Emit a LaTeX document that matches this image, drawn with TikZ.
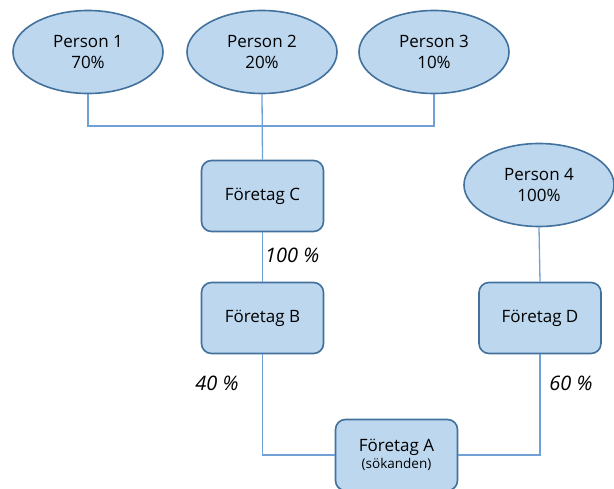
\documentclass[tikz,border=0pt]{standalone}
\usepackage{fontspec}
\setmainfont{Open Sans}
\usetikzlibrary{shapes.geometric}
\definecolor{boxfill}{HTML}{BDD7EE}
\definecolor{boxline}{HTML}{41719C}
\definecolor{conn}{HTML}{6FA0D6}
\begin{document}
\begin{tikzpicture}[x=1pt,y=-1pt,
  person/.style={ellipse,draw=boxline,fill=boxfill,line width=1.6pt,minimum width=150pt,minimum height=83pt,inner sep=0pt,align=center,font=\fontsize{17}{21}\selectfont},
  company/.style={rectangle,rounded corners=10pt,draw=boxline,fill=boxfill,line width=1.6pt,minimum width=122pt,minimum height=71pt,inner sep=0pt,align=center,font=\fontsize{17}{21}\selectfont},
  link/.style={draw=conn,line width=1.3pt},
  pct/.style={font=\fontsize{20}{24}\selectfont\itshape,inner sep=0pt}]
\useasboundingbox (0,0) rectangle (614,489);
\clip (0,0) rectangle (614,489);
\node[person] (p1) at (88,52) {Person 1\\70\%};
\node[person] (p2) at (262,52) {Person 2\\20\%};
\node[person] (p3) at (434,52) {Person 3\\10\%};
\node[person] (p4) at (539,185) {Person 4\\100\%};
\node[company] (c) at (262.5,196) {Företag C};
\node[company] (b) at (262.5,318) {Företag B};
\node[company] (d) at (540,318) {Företag D};
\node[company] (a) at (396.5,455) {Företag A\\[-4pt]{\fontsize{13.5}{16}\selectfont (sökanden)}};
\coordinate (j) at (262,126);
\draw[link] (p1.south) |- (j);
\draw[link] (p3.south) |- (j);
\draw[link] (p2.south) -- (c.north);
\draw[link] (c.south) -- (b.north);
\draw[link] (p4.south) -- (d.north);
\draw[link] (b.south) |- (a.west);
\draw[link] (d.south) |- (a.east);
\node[pct,anchor=west] (l100) at (265,255) {100 \%};
\node[pct] (l40) at (217,383) {40 \%};
\node[pct] (l60) at (571,383) {60 \%};
\end{tikzpicture}
\end{document}
